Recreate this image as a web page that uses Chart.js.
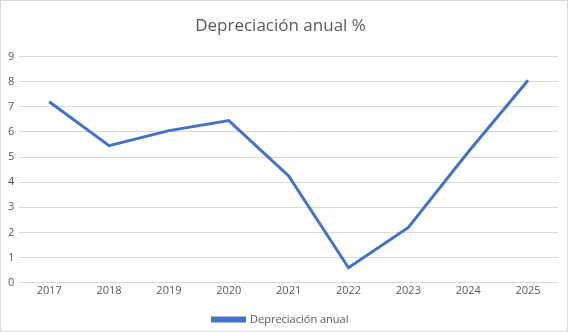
<!DOCTYPE html>
<html>
<head>
<meta charset="utf-8">
<script src="https://cdn.jsdelivr.net/npm/chart.js@4/dist/chart.umd.min.js"></script>
<style>
  body { margin: 0; background: #fff; }
  #wrap { width: 566px; height: 330px; border: 1px solid #d9d9d9; }
</style>
</head>
<body>
<div id="wrap"><canvas id="grafico" width="566" height="330"></canvas></div>
<script>
// datos
var anios = ['2017', '2018', '2019', '2020', '2021', '2022', '2023', '2024', '2025'];
var depreciacion = [7.2, 5.45, 6.05, 6.45, 4.25, 0.6, 2.2, 5.2, 8.05];
var nombreSerie = 'Depreciación anual';
var titulo = 'Depreciación anual %';

var ctx = document.getElementById('grafico').getContext('2d');
new Chart(ctx, {
    type: 'line',
    data: {
        labels: anios,
        datasets: [{
            label: nombreSerie,
            data: depreciacion,
            borderColor: '#4472C4',
            backgroundColor: '#4472C4',
            borderWidth: 3,
            pointRadius: 0,
            tension: 0,
            fill: false
        }]
    },
    options: {
        responsive: false,
        animation: false,
        layout: { padding: { left: 2, right: 9, top: 7, bottom: -4 } },
        plugins: {
            title: {
                display: true,
                text: titulo,
                color: '#595959',
                font: { family: 'Open Sans', size: 17, weight: 'normal' },
                padding: { top: 8, bottom: 20 }
            },
            legend: {
                position: 'bottom',
                labels: {
                    color: '#595959',
                    font: { family: 'Open Sans', size: 11 },
                    boxWidth: 32,
                    boxHeight: 3,
                    padding: 16
                }
            },
            tooltip: { enabled: false }
        },
        scales: {
            x: {
                offset: true,
                grid: { display: false, drawTicks: false },
                border: { display: false },
                ticks: { color: '#595959', font: { family: 'Open Sans', size: 11 }, padding: 1 }
            },
            y: {
                min: 0,
                max: 9,
                ticks: { stepSize: 1, color: '#595959', font: { family: 'Open Sans', size: 11 }, padding: 5 },
                grid: { color: '#d9d9d9', drawTicks: false },
                border: { display: false }
            }
        }
    }
});
</script>
</body>
</html>
